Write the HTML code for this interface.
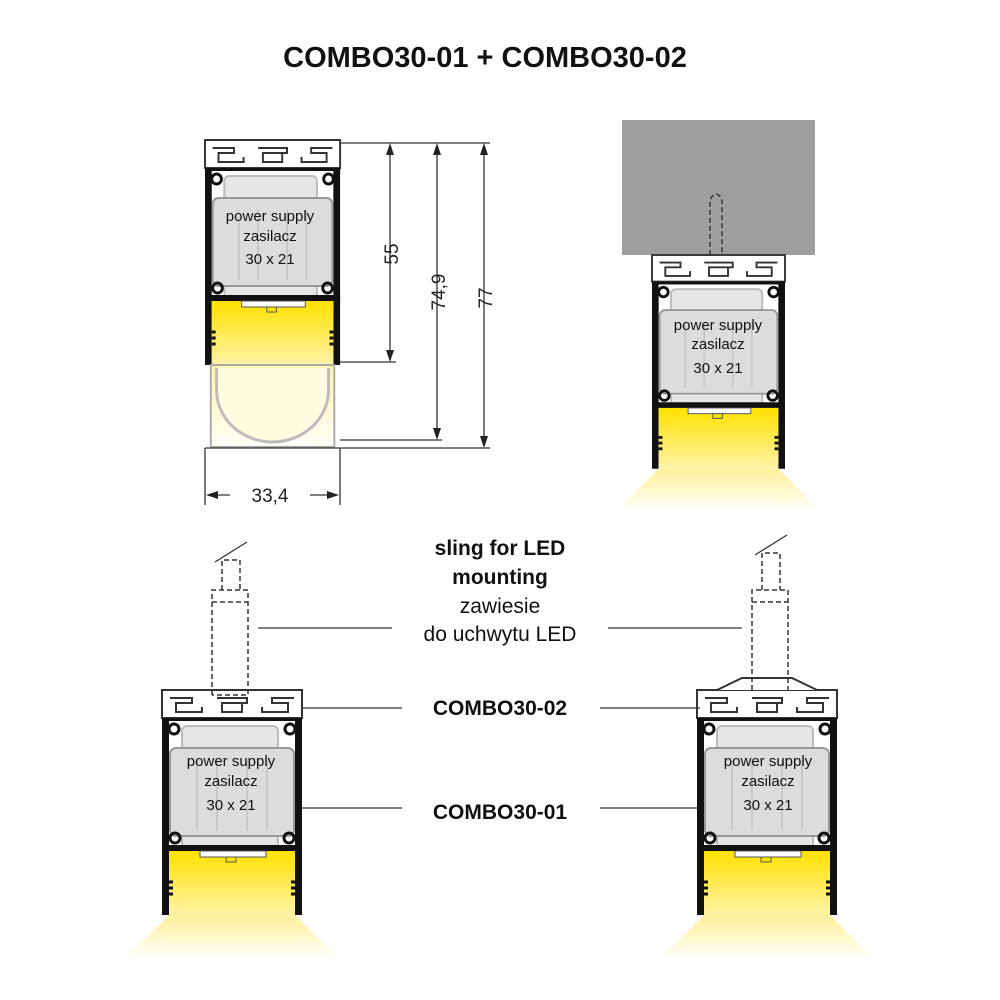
<!DOCTYPE html>
<html><head><meta charset="utf-8"><style>
html,body{margin:0;padding:0;background:#fff;width:1000px;height:1000px;overflow:hidden}
svg text{font-family:"Liberation Sans",sans-serif;}
</style></head><body>
<svg width="1000" height="1000" viewBox="0 0 1000 1000" xmlns="http://www.w3.org/2000/svg">
<defs>
<linearGradient id="yel" x1="0" y1="0" x2="0" y2="1"><stop offset="0" stop-color="#ffe100"/><stop offset="1" stop-color="#fff3a8"/></linearGradient>
<linearGradient id="cone" x1="0" y1="0" x2="0" y2="1"><stop offset="0" stop-color="#fff09a"/><stop offset="1" stop-color="#fffdf0"/></linearGradient>
<linearGradient id="dif" x1="0" y1="0" x2="0" y2="1"><stop offset="0" stop-color="#fff3b0"/><stop offset="1" stop-color="#fffef6"/></linearGradient>
<g id="unit">
 <rect x="0" y="0" width="140" height="28" fill="#fff" stroke="#333" stroke-width="2"/>
 <path d="M8,8 H30 V13 H14 V22 H40 V17 M55,8 H85 V13 H60 V22 H80 V13 M100,17 V22 H126 V13 H110 V8 H132" fill="none" stroke="#333" stroke-width="2"/>
 <rect x="0" y="28" width="7" height="197" fill="#111"/>
 <rect x="133" y="28" width="7" height="197" fill="#111"/>
 <rect x="0" y="28" width="140" height="3" fill="#111"/>
 <circle cx="12" cy="39" r="5" fill="none" stroke="#111" stroke-width="3"/>
 <circle cx="128" cy="39" r="5" fill="none" stroke="#111" stroke-width="3"/>
 <rect x="20" y="36" width="96" height="122" rx="5" fill="#e6e6e6" stroke="#bbb" stroke-width="2"/>
 <rect x="8" y="58" width="124" height="88" rx="6" fill="#dcdcdc" stroke="#999" stroke-width="2"/>
 <path d="M35,70 V140 M55,70 V140 M85,70 V140 M105,70 V140" stroke="#c8c8c8" stroke-width="2"/>
 <circle cx="13" cy="148" r="5" fill="none" stroke="#111" stroke-width="3"/>
 <circle cx="127" cy="148" r="5" fill="none" stroke="#111" stroke-width="3"/>
 <rect x="0" y="155" width="140" height="6" fill="#111"/>
 <rect x="7" y="161" width="126" height="64" fill="url(#yel)"/>
 <rect x="38" y="161" width="66" height="6" fill="#fff" stroke="#555" stroke-width="1"/>
 <rect x="64" y="167" width="10" height="5" fill="#ffe100" stroke="#555" stroke-width="1"/>
 <path d="M7,192 h4 M7,198 h4 M7,204 h4 M133,192 h-4 M133,198 h-4 M133,204 h-4" stroke="#111" stroke-width="3"/>
</g>
<g id="conebot"><path d="M7,225 H133 L172,264 H-32 Z" fill="url(#cone)"/></g>
</defs>

<text x="485" y="67" font-size="29" font-weight="bold" text-anchor="middle" fill="#111">COMBO30-01 + COMBO30-02</text>

<g transform="translate(205,140) scale(0.965,1)">
 <use href="#unit"/>
 <rect x="6" y="225" width="128" height="82" fill="url(#dif)" stroke="#aaa" stroke-width="2"/>
 <path d="M12,228 V250 A58,52 0 0 0 128,250 V228" fill="#fffbe0" stroke="#bbb" stroke-width="3"/>
</g>
<g stroke="#333" stroke-width="1.3" fill="none">
 <path d="M340,143 H490 M340,362 H396 M340,440 H442 M205,448 H490"/>
 <path d="M205,448 V505 M340,448 V505"/>
 <path d="M390,147 V358 M437,147 V436 M484,147 V444 M210,495 H335"/>
</g>
<g fill="#222">
 <path d="M390,143 l-4,12 h8z M390,362 l-4,-12 h8z M437,143 l-4,12 h8z M437,440 l-4,-12 h8z M484,143 l-4,12 h8z M484,448 l-4,-12 h8z M206,495 l12,-4 v8z M339,495 l-12,-4 v8z"/>
</g>
<rect x="230" y="484" width="80" height="22" fill="#fff"/>
<text x="270" y="502" font-size="19" text-anchor="middle" fill="#222">33,4</text>
<text transform="translate(398,254) rotate(-90)" font-size="19" text-anchor="middle" fill="#222">55</text>
<text transform="translate(445,292) rotate(-90)" font-size="19" text-anchor="middle" fill="#222">74,9</text>
<text transform="translate(492,298) rotate(-90)" font-size="19" text-anchor="middle" fill="#222">77</text>

<rect x="622" y="120" width="193" height="135" fill="#9e9e9f"/>
<path d="M710,255 V200 Q716,188 722,200 V270" fill="none" stroke="#333" stroke-width="1.5" stroke-dasharray="5,3"/>
<g transform="translate(652,255) scale(0.95)">
 <use href="#conebot"/><use href="#unit"/>
</g>

<g transform="translate(162,690)"><use href="#conebot"/><use href="#unit"/></g>
<g transform="translate(697,690)"><use href="#conebot"/><use href="#unit"/>
 <path d="M20,0 L45,-12 H95 L120,0" fill="#fff" stroke="#333" stroke-width="2"/></g>

<g fill="none" stroke="#333" stroke-width="1.5" stroke-dasharray="5,3">
 <path d="M222,590 V560 H240 V590"/>
 <path d="M212,695 V590 H248 V695 H212 M212,602 H248"/>
 <path d="M762,590 V553 H780 V590"/>
 <path d="M752,690 V590 H788 V690 M752,602 H788"/>
</g>
<path d="M215,562 L247,542 M755,555 L787,535" stroke="#333" stroke-width="1.3"/>

<g font-size="21" text-anchor="middle" fill="#111">
 <text x="500" y="555" font-weight="bold">sling for LED</text>
 <text x="500" y="584" font-weight="bold">mounting</text>
 <text x="500" y="613">zawiesie</text>
 <text x="500" y="641">do uchwytu LED</text>
 <text x="500" y="715" font-weight="bold">COMBO30-02</text>
 <text x="500" y="819" font-weight="bold">COMBO30-01</text>
</g>
<g stroke="#333" stroke-width="1.2">
 <path d="M258,628 H392 M608,628 H742 M302,708 H402 M600,708 H700 M302,808 H402 M600,808 H697"/>
</g>

<g font-size="15" text-anchor="middle" fill="#111">
 <text x="270" y="221">power supply</text><text x="270" y="241">zasilacz</text><text x="270" y="264">30 x 21</text>
 <text x="718" y="330">power supply</text><text x="718" y="349">zasilacz</text><text x="718" y="373">30 x 21</text>
 <text x="231" y="766">power supply</text><text x="231" y="786">zasilacz</text><text x="231" y="810">30 x 21</text>
 <text x="768" y="766">power supply</text><text x="768" y="786">zasilacz</text><text x="768" y="810">30 x 21</text>
</g>
</svg>
</body></html>
